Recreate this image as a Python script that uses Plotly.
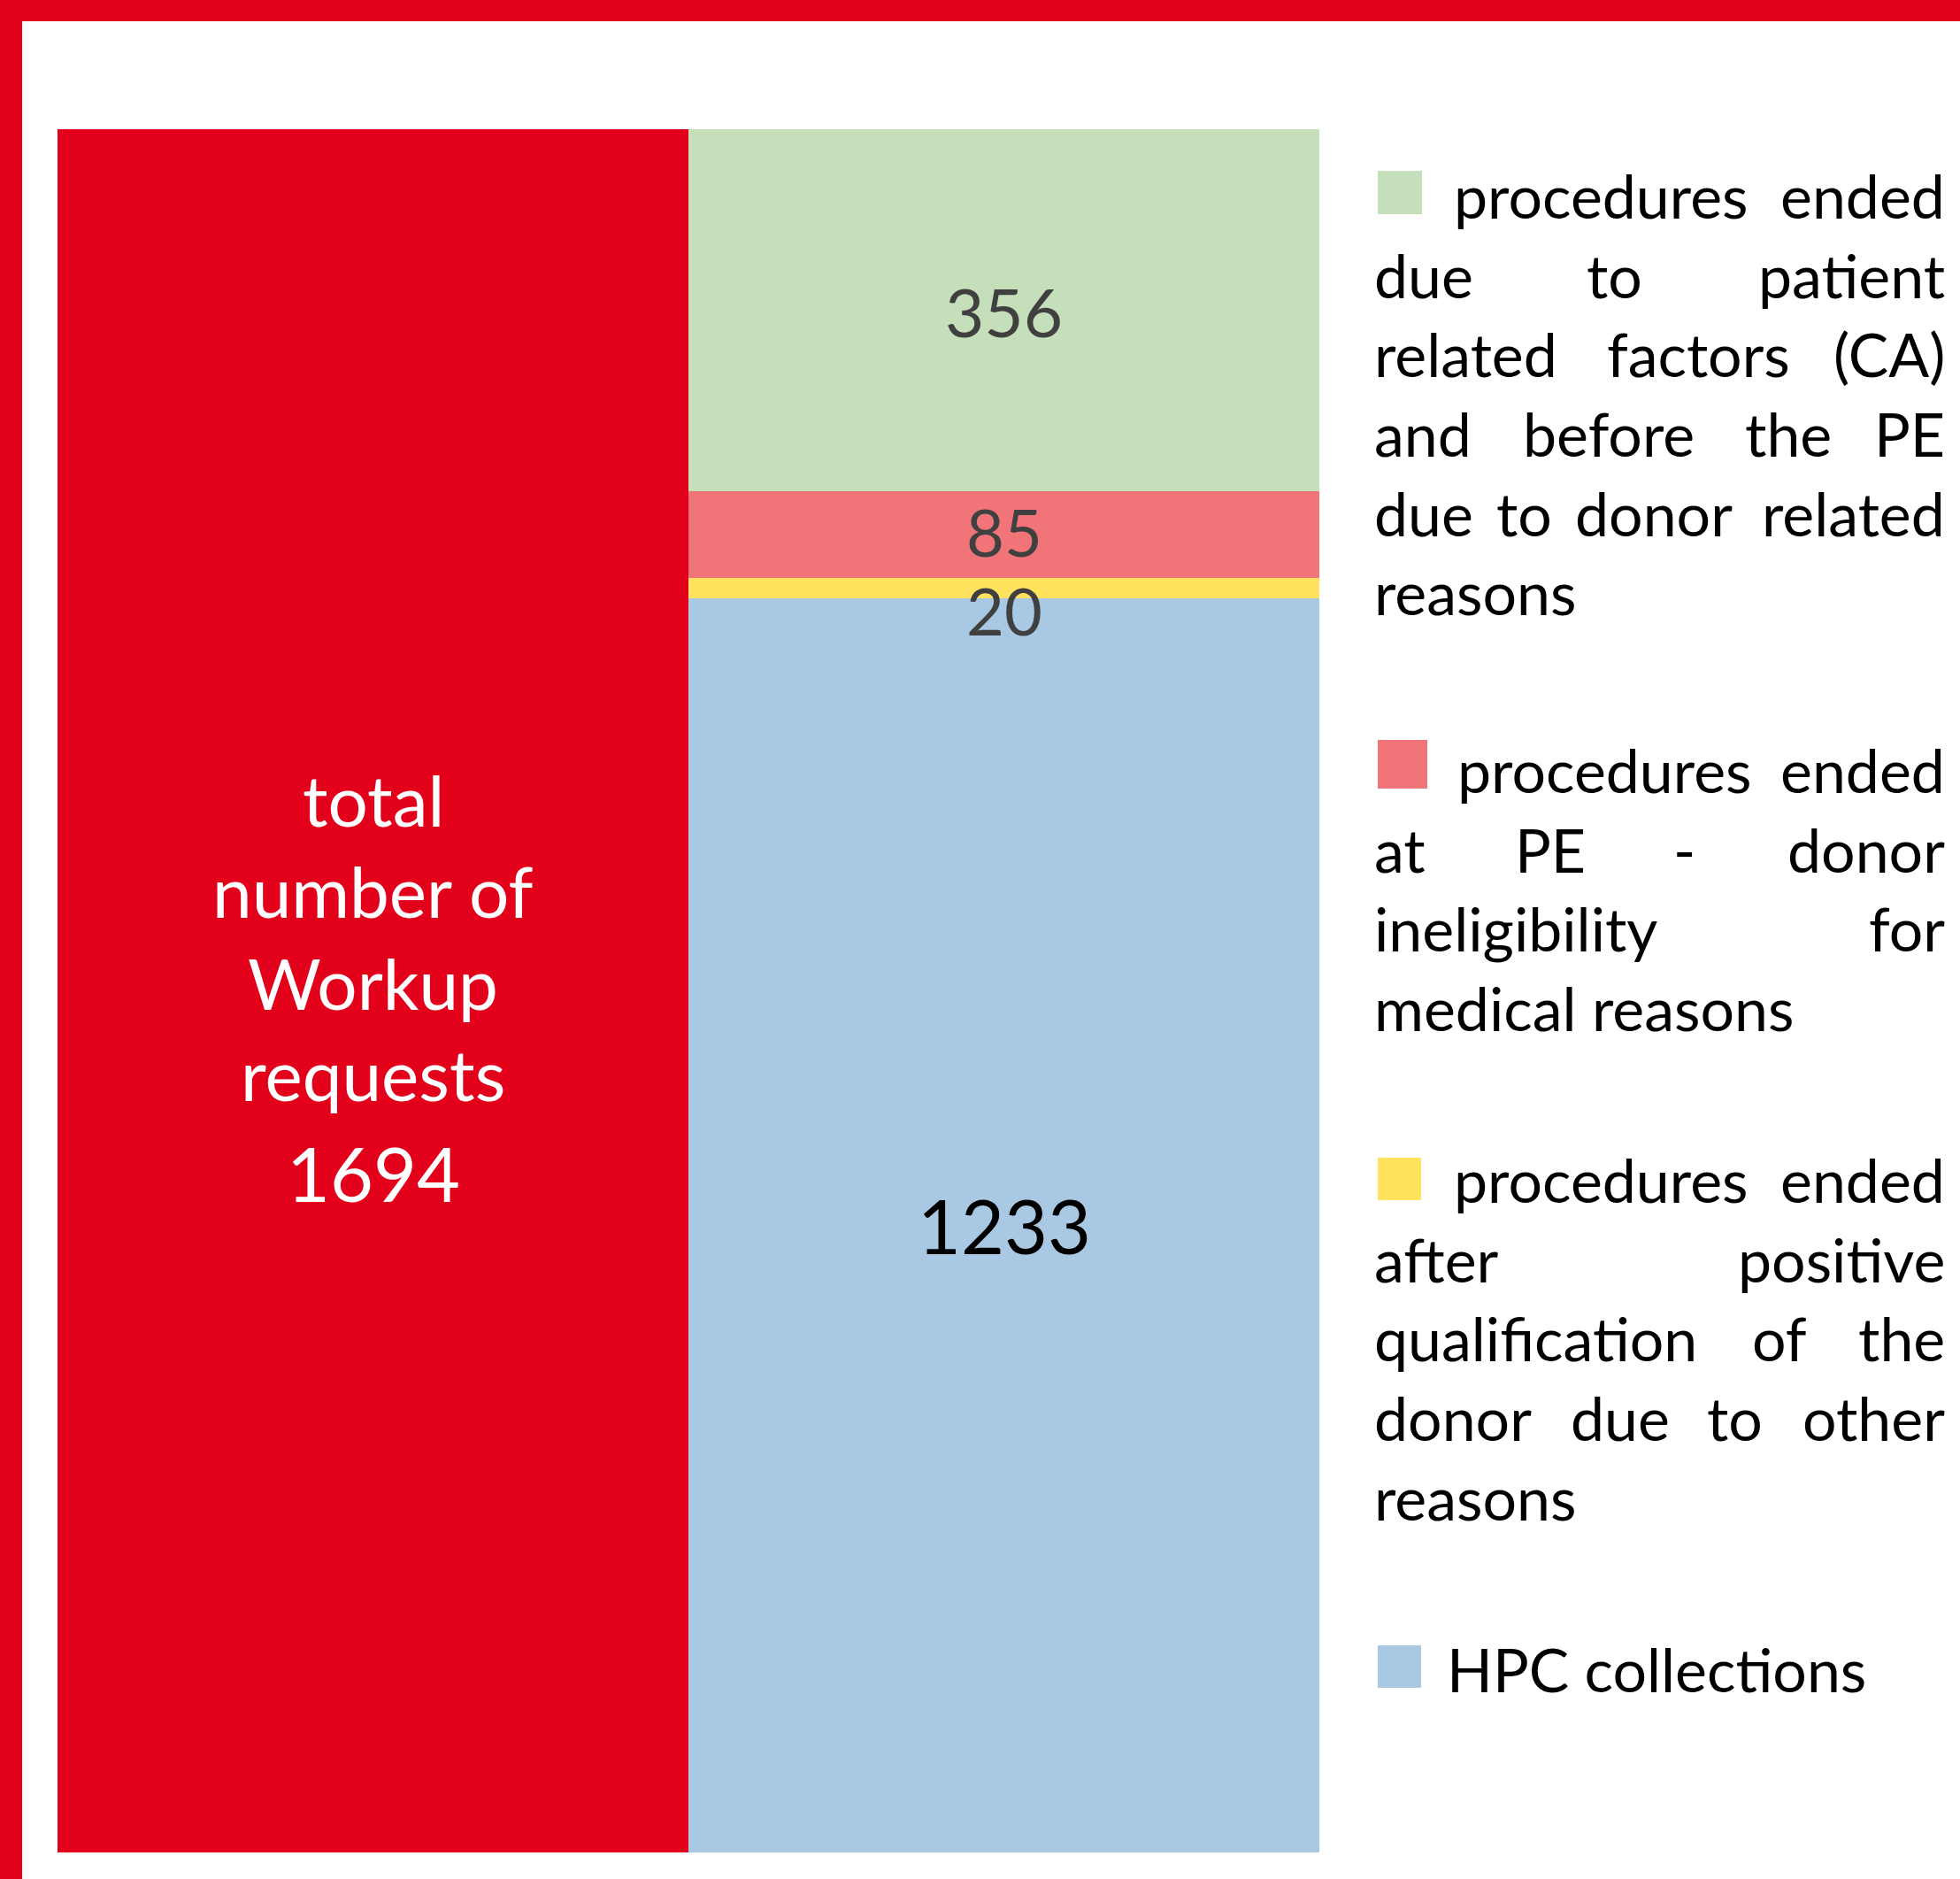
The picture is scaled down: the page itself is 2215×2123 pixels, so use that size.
import plotly.graph_objects as go

# ---------------- data ----------------
categories = [0, 1]  # 0 = total bar, 1 = breakdown bar
total_value = 1694
total_label_lines = ["total", "number of", "Workup", "requests"]

# stacked breakdown, bottom -> top
segment_names = [
    "HPC collections",
    "procedures ended after positive qualification of the donor due to other reasons",
    "procedures ended at PE - donor ineligibility for medical reasons",
    "procedures ended due to patient related factors (CA) and before the PE due to donor related reasons",
]
segment_values = [1233, 20, 85, 356]
segment_colors = ["#A9C8E3", "#FFE35E", "#F07478", "#C4DFBA"]
segment_label_colors = ["#000000", "#404040", "#404040", "#404040"]

# legend text, top -> bottom (line breaks as in the reference)
legend_lines = [
    ["procedures ended", "due to patient", "related factors (CA)", "and before the PE",
     "due to donor related", "reasons"],
    ["procedures ended", "at PE - donor", "ineligibility for", "medical reasons"],
    ["procedures ended", "after positive", "qualification of the", "donor due to other", "reasons"],
    ["HPC collections"],
]
legend_colors = ["#C4DFBA", "#F07478", "#FFE35E", "#A9C8E3"]

TOTAL_RED = "#E2001A"

# ---------------- layout geometry (pixels) ----------------
W, H = 2215, 2123
PL, PR, PT, PB = 65, 1491, 146, 2093
FONT = "Lato"


def pxx(x):
    return (x - PL) / (PR - PL)


def pxy(y):
    return (PB - y) / (PB - PT)


# Calibri-like advance widths (per 1000 em) used to lay out justified lines
CW = {" ": 226, "a": 479, "b": 525, "c": 423, "d": 525, "e": 498, "f": 305, "g": 471,
      "h": 525, "i": 229, "j": 239, "k": 455, "l": 229, "m": 799, "n": 525, "o": 527,
      "p": 525, "q": 525, "r": 349, "s": 391, "t": 335, "u": 525, "v": 452, "w": 715,
      "x": 433, "y": 453, "z": 395, "A": 579, "C": 533, "E": 488, "H": 623, "P": 517,
      "(": 303, ")": 303, "-": 306}
REF_SIZE = 73.5


def cwidth(word):
    return sum(CW.get(ch, 500) for ch in word) / 1000 * REF_SIZE


fig = go.Figure()

fig.add_trace(go.Bar(x=[categories[0]], y=[total_value], marker=dict(color=TOTAL_RED, line=dict(width=0)),
                     hoverinfo="skip", showlegend=False))
for name, v, c in zip(segment_names, segment_values, segment_colors):
    fig.add_trace(go.Bar(x=[categories[1]], y=[v], name=name, marker=dict(color=c, line=dict(width=0)),
                         hoverinfo="skip", showlegend=False))

annotations = []
shapes = []

# segment value labels (the two thin middle segments' labels are nudged apart, as in the reference)
label_sizes = [84.5, 74, 74, 76.5]
label_yshifts = [0, -25, 4, 0]
cum = 0
for v, lc, size, ys in zip(segment_values, segment_label_colors, label_sizes, label_yshifts):
    mid = cum + v / 2
    annotations.append(dict(x=categories[1], y=mid, xref="x", yref="y", text=str(v), showarrow=False,
                            font=dict(family=FONT, size=size, color=lc), xanchor="center",
                            yanchor="middle", yshift=ys, borderpad=0, borderwidth=0))
    cum += v

# total bar label (white)
total_baselines = [934, 1037, 1141, 1244]
TOT_SIZE = 80
for line, bl in zip(total_label_lines, total_baselines):
    annotations.append(dict(x=categories[0], y=pxy(bl - 0.387 * TOT_SIZE), xref="x", yref="paper", text=line,
                            showarrow=False, font=dict(family=FONT, size=TOT_SIZE, color="white"),
                            xanchor="center", yanchor="middle", borderpad=0, borderwidth=0))
annotations.append(dict(x=categories[0], y=pxy(1358 - 0.387 * 84.5), xref="x", yref="paper",
                        text=str(total_value), showarrow=False,
                        font=dict(family=FONT, size=84.5, color="white"),
                        xanchor="center", yanchor="middle", borderpad=0, borderwidth=0))

# borders
shapes.append(dict(type="rect", xref="paper", yref="paper", x0=pxx(0), x1=pxx(W), y0=pxy(0), y1=pxy(24),
                   fillcolor=TOTAL_RED, line=dict(width=0), layer="above"))
shapes.append(dict(type="rect", xref="paper", yref="paper", x0=pxx(0), x1=pxx(25), y0=pxy(0), y1=pxy(H),
                   fillcolor=TOTAL_RED, line=dict(width=0), layer="above"))

# legend
LEG_SIZE = 68
X_LEFT, X_RIGHT = 1552.5, 2198
first_line_start = [1643, 1647, 1643, 1635]
first_baseline = [247, 896, 1359, 1912]
LINE_H = 89.6
squares = [(1557, 1607, 193, 242), (1557, 1613, 836, 891), (1557, 1606, 1308, 1356), (1557, 1606, 1859, 1907)]

for k, lines in enumerate(legend_lines):
    x0, x1, y0, y1 = squares[k]
    shapes.append(dict(type="rect", xref="paper", yref="paper", x0=pxx(x0), x1=pxx(x1), y0=pxy(y0), y1=pxy(y1),
                       fillcolor=legend_colors[k], line=dict(width=0)))
    for j, line in enumerate(lines):
        bl = first_baseline[k] + j * LINE_H
        yc = pxy(bl - 0.387 * LEG_SIZE)
        xs = first_line_start[k] if j == 0 else X_LEFT
        last = (j == len(lines) - 1)
        words = line.split(" ")
        base = dict(xref="paper", yref="paper", y=yc, showarrow=False, yanchor="middle",
                    font=dict(family=FONT, size=LEG_SIZE, color="black"), borderpad=0, borderwidth=0)
        if last or len(words) == 1:
            annotations.append(dict(base, x=pxx(xs), text=line, xanchor="left"))
            continue
        widths = [cwidth(w) for w in words]
        gap = (X_RIGHT - xs - sum(widths)) / (len(words) - 1)
        pos = xs
        for i, (w, wd) in enumerate(zip(words, widths)):
            if i == 0:
                annotations.append(dict(base, x=pxx(xs), text=w, xanchor="left"))
            elif i == len(words) - 1:
                annotations.append(dict(base, x=pxx(X_RIGHT), text=w, xanchor="right"))
            else:
                annotations.append(dict(base, x=pxx(pos + wd / 2), text=w, xanchor="center"))
            pos += wd + gap

fig.update_layout(
    width=W, height=H,
    margin=dict(l=PL, r=W - PR, t=PT, b=H - PB, pad=0),
    barmode="stack", bargap=0,
    paper_bgcolor="white", plot_bgcolor="white",
    xaxis=dict(range=[-0.5, 1.5], visible=False, fixedrange=True),
    yaxis=dict(range=[0, total_value], visible=False, fixedrange=True),
    showlegend=False,
    annotations=annotations,
    shapes=shapes,
    font=dict(family=FONT),
)

fig.write_html("out.html", config=dict(displayModeBar=False),
               post_script="document.body.style.margin='0px';document.body.style.overflow='hidden';")
